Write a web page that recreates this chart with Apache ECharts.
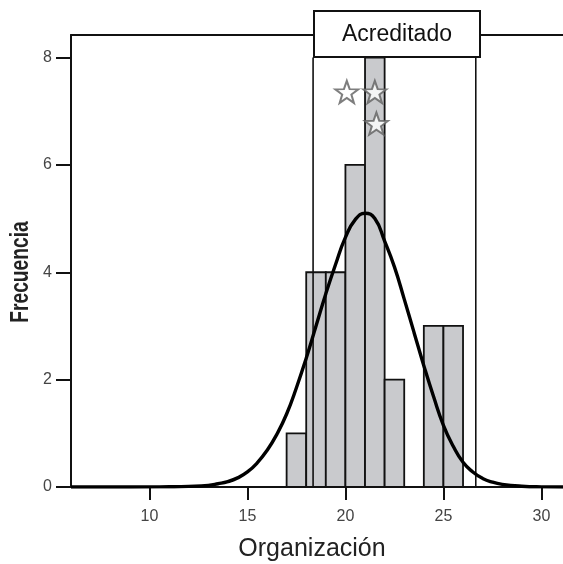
<!DOCTYPE html>
<html>
<head>
<meta charset="utf-8">
<script src="https://cdn.jsdelivr.net/npm/echarts@6/dist/echarts.min.js"></script>
<style>
html,body{margin:0;padding:0;background:#fff;}
#chart{width:563px;height:564px;}
</style>
</head>
<body>
<div id="chart"></div>
<script>
// Histogram bins (width 1) and frequencies
const binStarts = [17, 18, 19, 20, 21, 22, 24, 25];
const binCounts = [1, 4, 4, 6, 8, 2, 3, 3];
const binWidth = 1;

// Fitted normal curve
const curveX = [6, 9, 11, 12, 13, 13.5, 14, 14.5, 15, 15.5, 16, 16.5, 17, 17.5, 18, 18.5, 19, 19.5, 20, 20.5, 21, 21.5, 22, 22.5, 23, 23.5, 24, 24.5, 25, 25.5, 26, 26.5, 27, 27.5, 28, 29, 30, 31.1];
const curveY = [0, 0, 0.005, 0.012, 0.03, 0.06, 0.10, 0.17, 0.28, 0.45, 0.68, 0.98, 1.36, 1.85, 2.40, 3.00, 3.60, 4.15, 4.65, 4.98, 5.10, 5.00, 4.58, 4.10, 3.50, 2.88, 2.26, 1.68, 1.15, 0.76, 0.46, 0.28, 0.16, 0.09, 0.05, 0.015, 0.003, 0];

// Reference lines
const refLines = [18.35, 26.65];

// Star markers
const starX = [20.07, 21.5, 21.58];
const starY = [7.36, 7.36, 6.77];

// Axis ticks
const xTicks = [10, 15, 20, 25, 30];
const yTicks = [0, 2, 4, 6, 8];

const panelTitle = 'Acreditado';
const yTitle = 'Frecuencia';

const starPath = 'path://M50,0 L61.76,33.82 L97.55,34.55 L69.02,56.18 L79.39,90.45 L50,70 L20.61,90.45 L30.98,56.18 L2.45,34.55 L38.24,33.82 Z';

const chart = echarts.init(document.getElementById('chart'), null, {renderer: 'canvas'});

const fontFam = '"Liberation Sans", Arial, sans-serif';

const option = {
  animation: false,
  backgroundColor: '#fff',
  grid: {left: 71, right: 0, top: 35, bottom: 77, containLabel: false, outerBoundsMode: 'none'},
  xAxis: [{
    type: 'value', min: 6, max: 31.1,
    name: 'Organización', nameLocation: 'middle', nameGap: 50,
    nameTextStyle: {fontFamily: fontFam, fontSize: 25, color: '#222', padding: [0, 10, 0, 0]},
    axisLine: {show: true, onZero: false, lineStyle: {color: '#111', width: 2}},
    axisTick: {show: true, length: 13, inside: false, customValues: xTicks, lineStyle: {color: '#111', width: 2}},
    axisLabel: {customValues: xTicks, margin: 22, fontFamily: fontFam, fontSize: 16, color: '#444'},
    splitLine: {show: false}
  }, {
    type: 'value', min: 6, max: 31.1, position: 'top',
    axisLine: {show: true, onZero: false, lineStyle: {color: '#111', width: 2}},
    axisTick: {show: false}, axisLabel: {show: false}, splitLine: {show: false}
  }],
  yAxis: {
    type: 'value', min: 0, max: 8.42,
    axisLine: {show: true, onZero: false, lineStyle: {color: '#111', width: 2}},
    axisTick: {show: true, length: 15, customValues: yTicks, lineStyle: {color: '#111', width: 2}},
    axisLabel: {customValues: yTicks, margin: 19, fontFamily: fontFam, fontSize: 16, color: '#444'},
    splitLine: {show: false}
  },
  series: [{
    type: 'custom',
    z: 2,
    data: binStarts.map((s, i) => [s, s + binWidth, binCounts[i]]),
    encode: {x: [0, 1], y: 2},
    renderItem: function (params, api) {
      const p0 = api.coord([api.value(0), api.value(2)]);
      const p1 = api.coord([api.value(1), 0]);
      return {
        type: 'rect',
        shape: {x: p0[0], y: p0[1], width: p1[0] - p0[0], height: p1[1] - p0[1]},
        style: {fill: '#c9cacd', stroke: '#111', lineWidth: 1.8}
      };
    }
  }, {
    type: 'line',
    z: 3,
    data: refLines.flatMap(x => [[x, 0], [x, 8], null]),
    connectNulls: false,
    symbol: 'none',
    lineStyle: {color: '#111', width: 1.6}
  }, {
    type: 'line',
    z: 4,
    data: curveX.map((x, i) => [x, curveY[i]]),
    symbol: 'none',
    smooth: 0.5,
    lineStyle: {color: '#000', width: 3.4}
  }, {
    type: 'scatter',
    z: 5,
    data: starX.map((x, i) => [x, starY[i]]),
    symbol: starPath,
    symbolSize: [23, 22],
    itemStyle: {color: '#fff', borderColor: '#5e5e5e', borderWidth: 2}
  }],
  graphic: [{
    type: 'text',
    x: 21, y: 272,
    rotation: Math.PI / 2,
    scaleX: 0.74,
    style: {text: yTitle, fontFamily: fontFam, fontWeight: 'bold', fontSize: 26, fill: '#222', align: 'center', verticalAlign: 'middle'}
  }, {
    type: 'group',
    zlevel: 1,
    z: 100,
    children: [{
      type: 'rect',
      zlevel: 1,
      shape: {x: 314, y: 11, width: 166, height: 46},
      style: {fill: '#fff', stroke: '#111', lineWidth: 2}
    }, {
      type: 'text',
      zlevel: 1,
      x: 397, y: 35,
      style: {text: panelTitle, fontFamily: fontFam, fontSize: 23, fill: '#111', align: 'center', verticalAlign: 'middle'}
    }]
  }]
};

chart.setOption(option);
</script>
</body>
</html>
